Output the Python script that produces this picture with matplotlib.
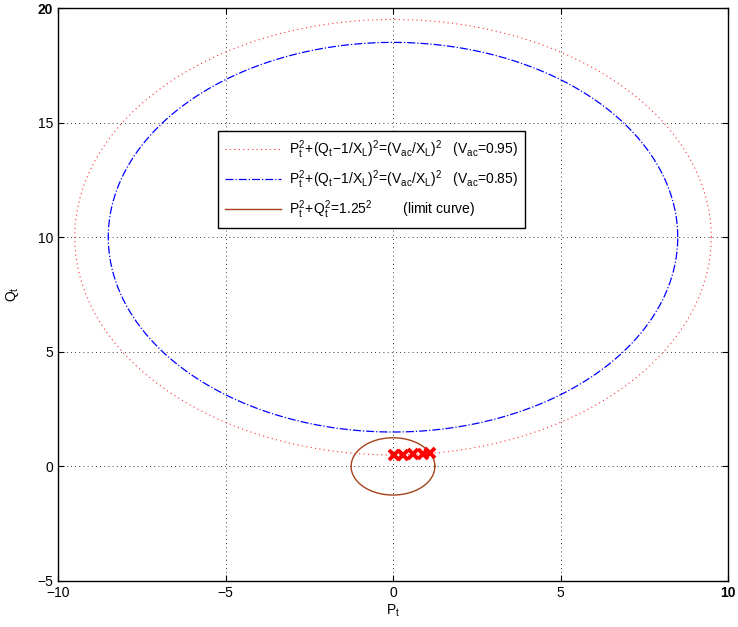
import numpy as np
import matplotlib
matplotlib.use("Agg")
import matplotlib.pyplot as plt

plt.rcParams['font.family'] = ['Liberation Sans', 'DejaVu Sans']
plt.rcParams['mathtext.fontset'] = 'custom'
plt.rcParams['mathtext.rm'] = 'Liberation Sans'
plt.rcParams['mathtext.it'] = 'Liberation Sans'
plt.rcParams['font.size'] = 9

# circle parameters
XL = 0.1
Vac_values = [0.95, 0.85]
limit_radius = 1.25

# operating points (red crosses)
P_pts = [0.02, 0.3, 0.6, 0.9, 1.1]
Q_pts = [0.50, 0.505, 0.52, 0.54, 0.565]

theta = np.linspace(0, 2 * np.pi, 400)

fig = plt.figure(figsize=(7.38, 6.27), dpi=100)
ax = fig.add_axes([58 / 738, 46 / 627, 670 / 738, 573 / 627])

r1 = Vac_values[0] / XL
ax.plot(r1 * np.cos(theta), 1 / XL + r1 * np.sin(theta), linestyle=(0, (1, 3)), color='#ff3030', lw=0.8,
        label=r'$\mathrm{P_t^2\!+\!(Q_t\!-\!1/X_L)^2\!=\!(V_{ac}/X_L)^2}$   (V$_{\mathrm{ac}}$=0.95)')
r2 = Vac_values[1] / XL
ax.plot(r2 * np.cos(theta), 1 / XL + r2 * np.sin(theta), '-.', color='blue', lw=0.9,
        label=r'$\mathrm{P_t^2\!+\!(Q_t\!-\!1/X_L)^2\!=\!(V_{ac}/X_L)^2}$   (V$_{\mathrm{ac}}$=0.85)')
ax.plot(limit_radius * np.cos(theta), limit_radius * np.sin(theta), '-', color='#a5421a', lw=1.0,
        label=r'$\mathrm{P_t^2\!+\!Q_t^2\!=\!1.25^2}$        (limit curve)')
ax.plot(P_pts, Q_pts, 'x', color='red', ms=7, mew=2.8)

ax.set_xlim(-10, 10)
ax.set_ylim(-5, 20)
ax.set_xticks([-10, -5, 0, 5, 10])
ax.set_yticks([-5, 0, 5, 10, 15, 20])
ax.set_xticklabels(['\u221210', '\u22125', '0', '5', '10'])
ax.set_yticklabels(['\u22125', '0', '5', '10', '15', '20'])
ax.get_xticklabels()[-1].set_fontweight('bold')
ax.get_yticklabels()[-1].set_fontweight('bold')
ax.grid(True, linestyle=(0, (1, 4)), color='black', lw=0.6)
ax.tick_params(direction='in', top=True, right=True, length=4, labelsize=10)
for s in ax.spines.values():
    s.set_linewidth(1.0)
ax.set_xlabel(r'P$_\mathrm{t}$', fontsize=10, labelpad=2)
ax.set_ylabel(r'Q$_\mathrm{t}$', fontsize=10)
ax.yaxis.set_label_coords(-0.055, 0.5)

leg = ax.legend(loc='upper left', bbox_to_anchor=(0.239, 0.785), fancybox=False,
                edgecolor='black', framealpha=1, fontsize=10, handlelength=4.0,
                borderpad=0.5, labelspacing=0.55, borderaxespad=0, handletextpad=0.6)
leg.get_frame().set_linewidth(1.0)

fig.savefig('out.png', dpi=100)
